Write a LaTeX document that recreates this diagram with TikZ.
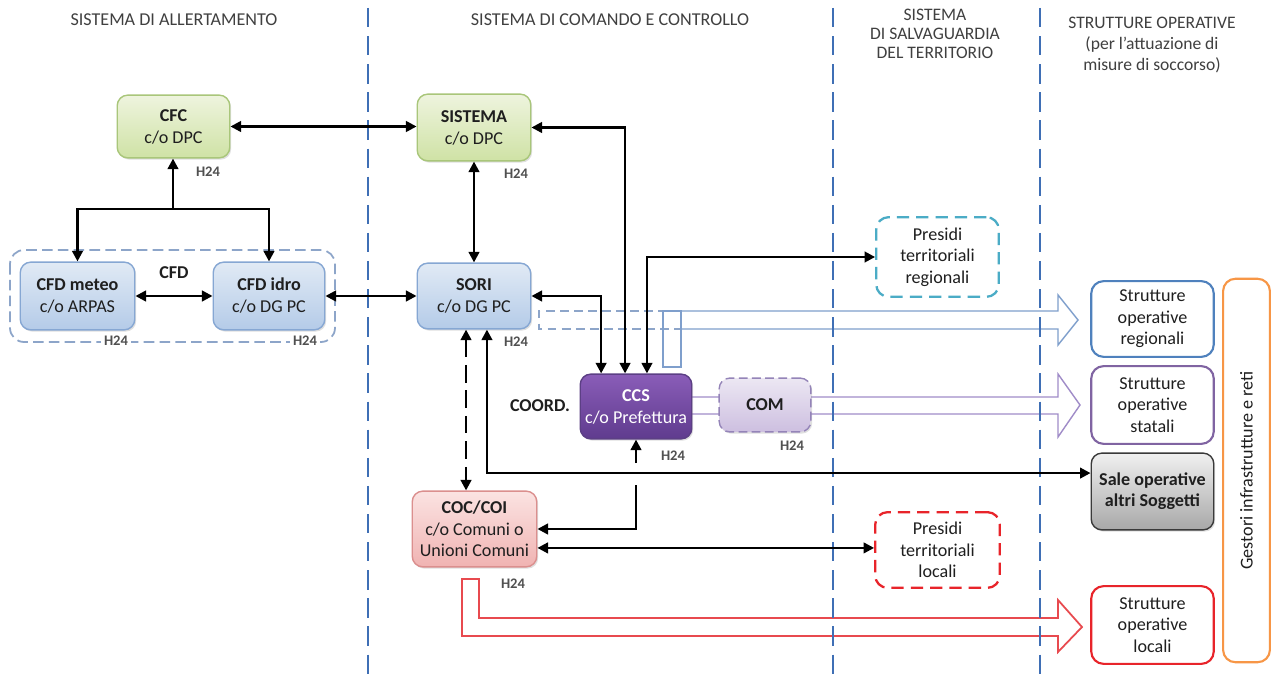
\documentclass[tikz,border=0pt]{standalone}
\usepackage{fontspec}
\setmainfont{Carlito}
\usetikzlibrary{arrows.meta,shadows,calc}
\newcommand\pxu{0.5669pt}
\definecolor{txt}{HTML}{1F1F1F}
\definecolor{headc}{HTML}{404040}
\definecolor{hcol}{HTML}{505050}
\definecolor{divc}{HTML}{3F6FB5}
\definecolor{grnT}{HTML}{EEF4DE}
\definecolor{grnB}{HTML}{CFE2A5}
\definecolor{grnD}{HTML}{A9C67A}
\definecolor{bluT}{HTML}{E1EAF5}
\definecolor{bluB}{HTML}{B4CBE8}
\definecolor{bluD}{HTML}{86A7D3}
\definecolor{ccsT}{HTML}{8A5DB8}
\definecolor{ccsB}{HTML}{5F3B8E}
\definecolor{ccsD}{HTML}{5C3F85}
\definecolor{comT}{HTML}{ECE7F3}
\definecolor{comB}{HTML}{CDBFE0}
\definecolor{comD}{HTML}{9484B8}
\definecolor{cocT}{HTML}{FBE3E2}
\definecolor{cocB}{HTML}{F0B3B2}
\definecolor{cocD}{HTML}{DB8F8E}
\definecolor{saleT}{HTML}{F0F0F0}
\definecolor{saleB}{HTML}{A8A8A8}
\definecolor{saleD}{HTML}{3A3A3A}
\definecolor{tealc}{HTML}{4BACC6}
\definecolor{redc}{HTML}{E8242A}
\definecolor{strBlue}{HTML}{4F81BD}
\definecolor{strPurp}{HTML}{8064A2}
\definecolor{orangec}{HTML}{F79646}
\definecolor{cfdD}{HTML}{8DA5C9}
\definecolor{bigBlue}{HTML}{7F9FCC}
\definecolor{bigPurp}{HTML}{A08CC8}
\definecolor{bigRed}{HTML}{E84A4F}
\tikzset{
  every node/.style={font=\fontsize{10.3}{12.5}\selectfont, text=txt},
  sz/.style 2 args={minimum width=#1*\pxu, minimum height=#2*\pxu},
  box/.style={rounded corners=6pt, align=center, inner sep=0pt, line width=0.8pt,
    drop shadow={opacity=0.25, shadow xshift=0.8pt, shadow yshift=-1pt}},
  greenbox/.style={box, draw=grnD, top color=grnT, bottom color=grnB},
  bluebox/.style={box, draw=bluD, top color=bluT, bottom color=bluB},
  ccsbox/.style={box, draw=ccsD, top color=ccsT, bottom color=ccsB, text=white},
  combox/.style={box, draw=comD, dash pattern=on 5pt off 2.5pt, top color=comT, bottom color=comB},
  cocbox/.style={box, draw=cocD, top color=cocT, bottom color=cocB},
  salebox/.style={box, draw=saleD, top color=saleT, bottom color=saleB},
  presbox/.style={rounded corners=7pt, align=center, inner sep=0pt, line width=1.3pt,
    dash pattern=on 7pt off 4pt, fill=white},
  strbox/.style={rounded corners=7pt, align=center, inner sep=0pt, line width=1.2pt, fill=white},
  hlab/.style={font=\fontsize{8.3}{9}\selectfont\bfseries, text=hcol},
  head/.style={text=headc, align=center},
  divider/.style={draw=divc, line width=1.3pt, dash pattern=on 11pt off 5pt},
  arr/.style={line width=1.4pt, -{Triangle[length=6pt,width=6pt]}},
  biarr/.style={line width=1.4pt, {Triangle[length=6pt,width=6pt]}-{Triangle[length=6pt,width=6pt]}},
  longdash/.style={dash pattern=on 10pt off 4.5pt},
  bigarrow/.style={line width=0.8pt, line join=miter}
}
\begin{document}
\begin{tikzpicture}[x=0.02cm,y=-0.02cm]
\useasboundingbox (0,0) rectangle (1275,682);
\fill[white] (0,0) rectangle (1275,682);

% big block arrows
\draw[bigarrow, draw=bigBlue] (681,311) -- (1058,311) -- (1058,295) -- (1078,320) -- (1058,345) -- (1058,329) -- (681,329);
\draw[bigarrow, draw=cfdD, line width=1pt, dash pattern=on 5pt off 3pt] (681,311) -- (539,311) -- (539,329) -- (681,329);
\draw[bigarrow, draw=bigBlue] (663,311) rectangle (681,367);
\draw[bigarrow, draw=bigPurp] (692,397) -- (1058,397) -- (1058,374) -- (1080,405) -- (1058,437) -- (1058,414) -- (692,414);
\draw[bigarrow, draw=bigRed, line width=1pt] (462,579) -- (479,579) -- (479,618) -- (1058,618) -- (1058,600) -- (1082,627) -- (1058,652) -- (1058,636) -- (462,636) -- cycle;

% dividers
\draw[divider] (368,8) -- (368,682);
\draw[divider] (833,8) -- (833,682);
\draw[divider] (1040,8) -- (1040,682);

% headings
\node[head] (h1) at (174,20) {SISTEMA DI ALLERTAMENTO};
\node[head] (h2) at (610,20) {SISTEMA DI COMANDO E CONTROLLO};
\node[head, font=\fontsize{10}{11}\selectfont] (h3) at (935,34) {SISTEMA\\DI SALVAGUARDIA\\DEL TERRITORIO};
\node[head, font=\fontsize{10}{12.2}\selectfont] (h4) at (1152,45) {STRUTTURE OPERATIVE\\(per l'attuazione di\\misure di soccorso)};

% CFD container
\draw[draw=cfdD, line width=1pt, dash pattern=on 6pt off 3pt, rounded corners=8pt] (10,250) rectangle (335,342);
\node[font=\fontsize{10.3}{12}\selectfont\bfseries] (cfdlab) at (174,273) {CFD};

% nodes
\node[greenbox, sz={113}{63}] (cfc) at (173.5,126.5) {\textbf{CFC}\\c/o DPC};
\node[greenbox, sz={114}{67}] (sistema) at (474,127.5) {\textbf{SISTEMA}\\c/o DPC};
\node[bluebox, sz={115}{68}] (meteo) at (77.5,296) {\textbf{CFD meteo}\\c/o ARPAS};
\node[bluebox, sz={112}{68}] (idro) at (269,296) {\textbf{CFD idro}\\c/o DG PC};
\node[bluebox, sz={114}{66}] (sori) at (474,296) {\textbf{SORI}\\c/o DG PC};
\node[ccsbox, sz={112}{65}] (ccs) at (636,406.5) {\textbf{CCS}\\c/o Prefettura};
\node[combox, sz={92}{54}] (com) at (765,405) {\textbf{COM}};
\node[cocbox, sz={125}{76}, font=\fontsize{10.3}{12.2}\selectfont] (coc) at (474.5,529) {\textbf{COC/COI}\\c/o Comuni o\\Unioni Comuni};
\node[presbox, draw=tealc, sz={123}{80}, font=\fontsize{10.3}{12.2}\selectfont] (presR) at (937.5,257) {Presidi\\territoriali\\regionali};
\node[presbox, draw=redc, sz={125}{76}, font=\fontsize{10.3}{12.2}\selectfont] (presL) at (937.5,550) {Presidi\\territoriali\\locali};
\node[strbox, draw=strBlue, sz={123}{76}, font=\fontsize{10.3}{12.2}\selectfont] (strR) at (1152.5,319) {Strutture\\operative\\regionali};
\node[strbox, draw=strPurp, sz={123}{78}, font=\fontsize{10.3}{12.2}\selectfont] (strS) at (1152.5,405) {Strutture\\operative\\statali};
\node[salebox, sz={123}{77}, font=\fontsize{10.3}{12}\selectfont\bfseries] (sale) at (1152.5,491.5) {Sale operative\\altri Soggetti};
\node[strbox, draw=redc, sz={123}{78}, font=\fontsize{10.3}{12.2}\selectfont] (strL) at (1152.5,625) {Strutture\\operative\\locali};
\node[strbox, draw=orangec, rotate=90, sz={385}{47}] (gest) at (1246.5,470.5) {Gestori infrastrutture e reti};

\node[font=\fontsize{10.3}{12}\selectfont\bfseries] (coord) at (540,406) {COORD.};

% H24 labels
\node[hlab] (ha) at (208,172) {H24};
\node[hlab] (hb) at (516,174) {H24};
\node[hlab] (hc) at (516,342) {H24};
\node[hlab] (hd) at (673,456) {H24};
\node[hlab] (he) at (792,446) {H24};
\node[hlab] (hf) at (513,584) {H24};
\node[hlab, fill=white, inner sep=1.5pt] (hg) at (116,341) {H24};
\node[hlab, fill=white, inner sep=1.5pt] (hh) at (305,341) {H24};

% connectors
\coordinate (j) at (173,209);
\draw[arr] (j) -- (j |- cfc.south);
\draw[arr] (j) -| (meteo.north);
\draw[arr] (j) -| (idro.north);
\draw[biarr] (cfc.east) -- (cfc.east -| sistema.west);
\draw[biarr] (meteo.east) -- (idro.west);
\draw[biarr] (idro.east) -- (sori.west);
\draw[biarr] (sistema.south) -- (sori.north);
\coordinate (ca) at ([xshift=-35*\pxu]ccs.north);
\coordinate (cb) at ([xshift=-11*\pxu]ccs.north);
\coordinate (cc) at ([xshift=11*\pxu]ccs.north);
\draw[biarr] (sistema.east) -| (cb);
\draw[biarr] (sori.east) -| (ca);
\draw[biarr] (presR.west) -| (cc);
\coordinate (sd) at ([xshift=-8*\pxu]sori.south);
\coordinate (se) at ([xshift=13*\pxu]sori.south);
\coordinate (sw) at ([yshift=18.5*\pxu]sale.west);
\draw[biarr, longdash] (sd) -- (sd |- coc.north);
\draw[biarr] (se) |- (sw);
\coordinate (g1) at (636,463);
\coordinate (g2) at (636,485);
\draw[arr] (g1) -- (g1 |- ccs.south);
\draw[arr] (g2) |- (coc.east);
\coordinate (cl) at ([yshift=-19*\pxu]coc.east);
\draw[biarr] (cl) -- (cl -| presL.west);
\end{tikzpicture}
\end{document}
